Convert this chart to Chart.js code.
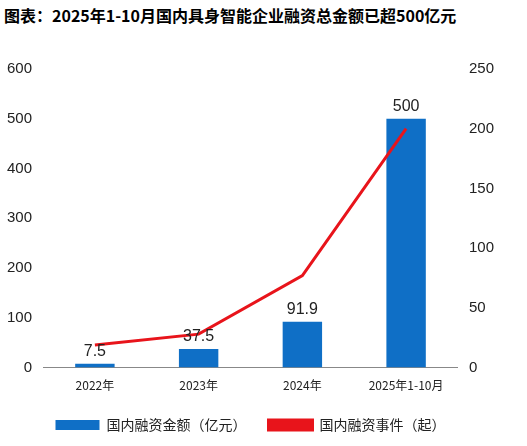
<!DOCTYPE html>
<html><head><meta charset="utf-8">
<script src="https://cdn.jsdelivr.net/npm/chart.js@4"></script>
<style>body{margin:0;background:#fff}#t{font-family:"Noto Sans CJK SC";font-weight:bold;font-size:16px;position:absolute;left:4px;top:3px;color:#000}#w{position:absolute;left:0;top:50px;width:527px;height:396px}</style>
</head><body>
<div id="t">图表：2025年1-10月国内具身智能企业融资总金额已超500亿元</div>
<div id="w"><canvas id="c"></canvas></div>
<script>
const categories=["2022年","2023年","2024年","2025年1-10月"];
const amounts=[7.5,37.5,91.9,500];
const events=[19,28,77,200];
const labelPlugin={id:'lbl',afterDatasetsDraw(ch){const ctx=ch.ctx;const m=ch.getDatasetMeta(1);ctx.save();ctx.font='16px "Liberation Sans"';ctx.fillStyle='#222';ctx.textAlign='center';ctx.textBaseline='bottom';m.data.forEach((b,i)=>ctx.fillText(String(amounts[i]),b.x,b.y-4));ctx.restore();}};
new Chart(document.getElementById('c'),{data:{labels:categories,datasets:[
{type:'line',label:'国内融资事件（起）',data:events,yAxisID:'y1',borderColor:'#e8141b',backgroundColor:'#e8141b',borderWidth:3,pointRadius:0,tension:0,order:0},
{type:'bar',label:'国内融资金额（亿元）',data:amounts,yAxisID:'y',backgroundColor:'#0f6fc6',barPercentage:0.38,categoryPercentage:1,order:1}
]},options:{responsive:true,maintainAspectRatio:false,animation:false,
layout:{padding:{left:4,right:30,top:19,bottom:4}},
plugins:{legend:{position:'bottom',reverse:true,labels:{boxWidth:44,boxHeight:10,font:{size:14,family:'"Noto Sans CJK SC"'},color:'#222',padding:22}},tooltip:{enabled:false}},
scales:{x:{grid:{display:false},border:{color:'#888'},ticks:{color:'#222',font:{size:12,family:'"Noto Sans CJK SC"'}}},
y:{min:0,max:600,ticks:{stepSize:100,color:'#222',font:{size:15,family:'"Liberation Sans"'}},grid:{display:false},border:{display:false}},
y1:{position:'right',min:0,max:250,ticks:{stepSize:50,color:'#222',font:{size:15,family:'"Liberation Sans"'}},grid:{display:false},border:{display:false}}}},
plugins:[labelPlugin]});
</script></body></html>
